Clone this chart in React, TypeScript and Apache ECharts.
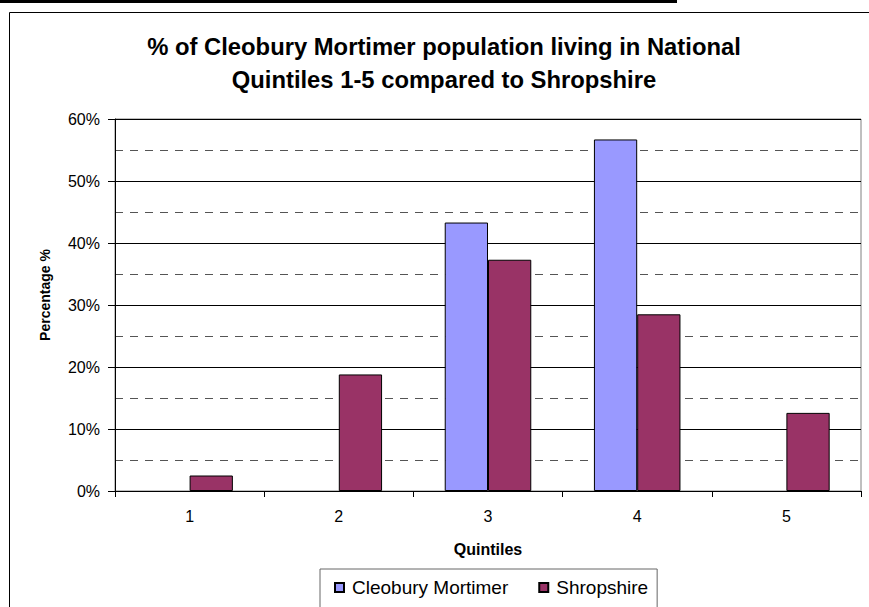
import React, { useEffect, useRef } from "react";
import * as echarts from "echarts";

const categories = ["1", "2", "3", "4", "5"];
const cleoburyValues = [0, 0, 43.3, 56.7, 0];
const shropshireValues = [2.5, 18.8, 37.3, 28.5, 12.6];
const seriesNames = ["Cleobury Mortimer", "Shropshire"];
const titleText = "% of Cleobury Mortimer population living in National\nQuintiles 1-5 compared to Shropshire";
const yAxisTitle = "Percentage %";
const xAxisTitle = "Quintiles";

const FONT = "'Liberation Sans', Arial, sans-serif";

// Excel draws nothing for a zero-height bar
const asBars = (values: number[]) => values.map((v) => (v === 0 ? "-" : v));

export default function App() {
  const ref = useRef<HTMLDivElement>(null);
  useEffect(() => {
    if (!ref.current) return;
    const chart = echarts.init(ref.current, undefined, { renderer: "svg" });
    chart.setOption({
      animation: false,
      backgroundColor: "#fff",
      title: {
        text: titleText,
        left: 444,
        top: 30,
        padding: 0,
        textAlign: "center",
        textStyle: { fontSize: 23.8, fontWeight: "bold", color: "#000", lineHeight: 33, fontFamily: FONT },
      },
      grid: {
        left: 115,
        right: 8,
        top: 119,
        bottom: 116,
        show: true,
        borderColor: "#808080",
        borderWidth: 1,
        backgroundColor: "transparent",
      },
      legend: {
        data: seriesNames,
        left: 320,
        top: 569,
        orient: "horizontal",
        icon: "rect",
        itemWidth: 9,
        itemHeight: 9,
        itemGap: 30,
        padding: [9, 9, 40, 14],
        borderColor: "#666",
        borderWidth: 1,
        textStyle: { fontSize: 19, color: "#000", fontFamily: FONT, padding: [0, 0, 0, 3] },
      },
      xAxis: {
        type: "category",
        data: categories,
        name: xAxisTitle,
        nameLocation: "middle",
        nameGap: 50,
        nameTextStyle: { fontSize: 16, fontWeight: "bold", color: "#000", fontFamily: FONT },
        axisLine: { show: true, lineStyle: { color: "#000", width: 1 } },
        axisTick: { show: true, length: 6, inside: false, alignWithLabel: false, lineStyle: { color: "#000" } },
        axisLabel: { fontSize: 16, color: "#000", margin: 17, fontFamily: FONT },
        splitLine: { show: false },
      },
      yAxis: [
        {
          type: "value",
          min: 0,
          max: 60,
          interval: 10,
          z: 1,
          axisLine: { show: true, lineStyle: { color: "#000", width: 1 } },
          axisTick: { show: true, length: 7, inside: false, lineStyle: { color: "#000" } },
          axisLabel: { formatter: "{value}%", fontSize: 16, color: "#000", margin: 15, fontFamily: FONT },
          splitLine: { show: true, lineStyle: { color: "#000", width: 1, type: "solid" } },
        },
        {
          type: "value",
          min: 0,
          max: 60,
          interval: 5,
          z: 0,
          axisLine: { show: false },
          axisTick: { show: false },
          axisLabel: { show: false },
          splitLine: { show: true, lineStyle: { color: "#555", width: 1, type: [8, 7] } },
        },
      ],
      series: [
        {
          name: seriesNames[0],
          type: "bar",
          data: asBars(cleoburyValues),
          yAxisIndex: 0,
          barGap: "0%",
          barCategoryGap: "42%",
          itemStyle: { color: "#9999FF", borderColor: "#000", borderWidth: 1 },
        },
        {
          name: seriesNames[1],
          type: "bar",
          data: asBars(shropshireValues),
          yAxisIndex: 0,
          barGap: "0%",
          barCategoryGap: "42%",
          itemStyle: { color: "#993366", borderColor: "#000", borderWidth: 1 },
        },
      ],
      graphic: [
        {
          type: "rect",
          silent: true,
          shape: { x: 9.5, y: 12.5, width: 1000, height: 1000 },
          style: { fill: "none", stroke: "#000", lineWidth: 1 },
        },
        {
          type: "line",
          silent: true,
          shape: { x1: 0, y1: 1.5, x2: 677, y2: 1.5 },
          style: { stroke: "#000", lineWidth: 3 },
        },
        {
          type: "text",
          x: 45,
          y: 295,
          rotation: Math.PI / 2,
          style: {
            text: yAxisTitle,
            fontSize: 14,
            fontWeight: "bold",
            fill: "#000",
            fontFamily: FONT,
            align: "center",
            verticalAlign: "middle",
          },
        },
      ],
    });
    return () => chart.dispose();
  }, []);
  return (
    <div
      ref={ref}
      style={{ position: "absolute", left: 0, top: 0, width: 869, height: 607 }}
    />
  );
}
